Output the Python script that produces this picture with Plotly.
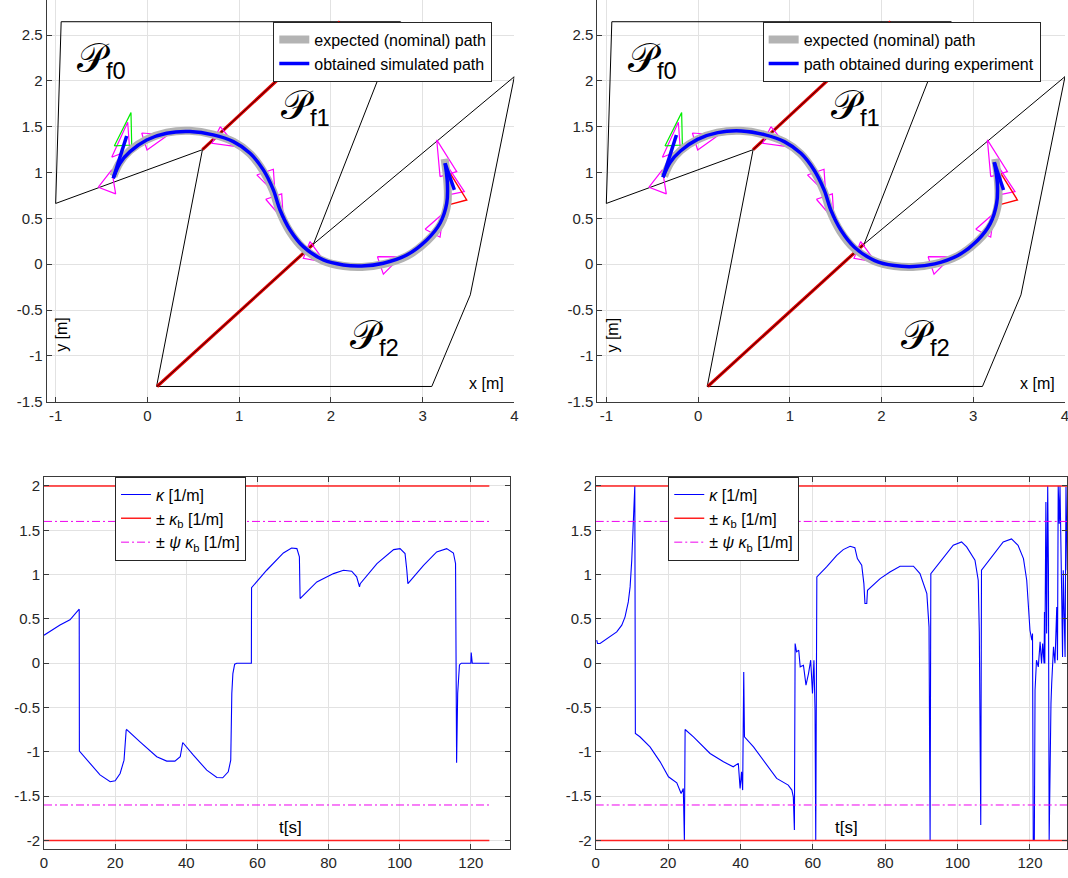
import plotly.graph_objects as go

FONT = "Liberation Sans, Arial, Helvetica, sans-serif"

# ---------------- top plots: partition boundaries ----------------
bound_x = [-0.94, -1.00, 0.60, 0.10, 3.10, 3.52, 4.00, 1.81, 2.76, -0.94]
bound_y = [2.646, 0.663, 1.25, -1.334, -1.334, -0.334, 2.047, 0.22, 2.646, 2.646]
red_x = [0.105, 1.81, None, 0.60, 2.10]
red_y = [-1.334, 0.22, None, 1.25, 2.646]

# nominal (expected) path
nom_x = [-0.37, -0.30, -0.19, -0.01, 0.21, 0.46, 0.72, 0.94, 1.12, 1.26, 1.37, 1.44,
         1.55, 1.70, 1.92, 2.14, 2.34, 2.57, 2.83, 3.05, 3.20, 3.27, 3.27, 3.24]
nom_y = [0.96, 1.11, 1.24, 1.36, 1.435, 1.455, 1.415, 1.335, 1.205, 1.02, 0.80, 0.58,
         0.36, 0.175, 0.035, -0.02, -0.03, 0.00, 0.09, 0.255, 0.44, 0.66, 0.89, 1.15]

# obtained simulated path
sim_x = [-0.372, -0.299, -0.190, -0.008, 0.210, 0.464, 0.718, 0.937, 1.119, 1.264, 1.373,
         1.446, 1.555, 1.700, 1.918, 2.136, 2.336, 2.572, 2.827, 3.045, 3.190, 3.263, 3.270, 3.245]
sim_y = [0.938, 1.102, 1.228, 1.356, 1.429, 1.447, 1.411, 1.337, 1.211, 1.029, 0.811,
         0.592, 0.374, 0.192, 0.047, -0.008, -0.019, 0.011, 0.101, 0.265, 0.447, 0.665, 0.884, 1.102]
sim_head_x = [-0.226, -0.372, None, 3.245, 3.346]
sim_head_y = [1.400, 0.938, None, 1.102, 0.811]

# path obtained during experiment
exp_x = [-0.382, -0.305, -0.192, -0.006, 0.214, 0.473, 0.722, 0.940, 1.121, 1.266, 1.376,
         1.450, 1.560, 1.705, 1.925, 2.140, 2.346, 2.580, 2.832, 3.048, 3.186, 3.255, 3.262, 3.229]
exp_y = [0.949, 1.110, 1.235, 1.362, 1.436, 1.454, 1.414, 1.338, 1.210, 1.026, 0.806,
         0.585, 0.368, 0.186, 0.040, -0.015, -0.026, 0.004, 0.095, 0.262, 0.446, 0.665, 0.886, 1.113]
exp_head_x = [-0.236, -0.382, None, 3.229, 3.330]
exp_head_y = [1.410, 0.949, None, 1.113, 0.810]

# robot footprints (triangles)
mag_tri_x = [-0.535, -0.346, -0.389, -0.535, None,
             -0.389, -0.193, -0.215, -0.389, None,
             -0.062, -0.004, 0.225, -0.062, None,
             0.794, 0.704, 0.974, 0.794, None,
             1.192, 1.373, 1.391, 1.192, None,
             1.290, 1.464, 1.482, 1.290, None,
             1.773, 1.700, 1.936, 1.773, None,
             2.507, 2.572, 2.760, 2.507, None,
             3.027, 3.190, 3.226, 3.027, None,
             3.190, 3.372, 3.154, 3.190, None,
             3.280, 3.455, 3.226, 3.280]
mag_tri_y = [0.840, 0.767, 1.029, 0.840, None,
             1.167, 1.246, 1.549, 1.167, None,
             1.432, 1.247, 1.410, 1.432, None,
             1.501, 1.320, 1.283, 1.501, None,
             0.974, 1.036, 0.775, 0.974, None,
             0.709, 0.767, 0.483, 0.709, None,
             0.247, 0.065, 0.022, 0.247, None,
             0.083, -0.109, 0.080, 0.083, None,
             0.382, 0.295, 0.556, 0.382, None,
             0.956, 1.010, 1.356, 0.956, None,
             0.756, 0.792, 1.138, 0.756]
green_tri_x = [-0.361, -0.171, -0.179, -0.361]
green_tri_y = [1.291, 1.301, 1.654, 1.291]
red_tri_x = [3.281, 3.481, 3.299, 3.281]
red_tri_y = [0.647, 0.701, 0.993, 0.647]

region_subs = ["f0", "f1", "f2"]
region_x = [-0.50, 1.72, 2.48]
region_y = [2.23, 1.72, -0.79]

top_xticks = [-1, 0, 1, 2, 3, 4]
top_xtext = ["-1", "0", "1", "2", "3", "4"]
top_yticks = [2.5, 2, 1.5, 1, 0.5, 0, -0.5, -1, -1.5]
top_ytext = ["2.5", "2", "1.5", "1", "0.5", "0", "-0.5", "-1", "-1.5"]

# ---------------- bottom plots: curvature ----------------
t_sim = [0, 4.5, 7.3, 9.66, 9.9, 9.95, 12.9, 15.75, 18.6, 20.0,
         21.4, 22.5, 23.1, 23.25, 27.0, 31.7, 34.5, 36.8, 38.3, 38.7,
         39.0, 42.0, 45.75, 48.6, 50.25, 51.8, 52.5, 52.65, 52.8, 53.1,
         53.6, 54.2, 58.3, 58.35, 62.6, 67.3, 69.6, 71.1, 71.8, 72.0,
         76.7, 81.4, 84.2, 86.5, 87.9, 88.7, 88.9, 93.6, 98.3, 100.1,
         101.5, 102.0, 102.3, 106.7, 110.4, 113.2, 115.1, 115.7, 115.9, 116.0,
         116.3, 116.8, 117.3, 120.0, 120.1, 120.4, 125.2]
k_sim = [0.316, 0.43, 0.49, 0.598, 0.61, -0.992, -1.13, -1.26, -1.338, -1.327,
         -1.244, -1.094, -0.756, -0.748, -0.887, -1.056, -1.105, -1.105, -1.056, -0.944,
         -0.895, -1.038, -1.207, -1.29, -1.293, -1.226, -1.094, -0.718, -0.342, -0.117,
         -0.011, 0.0, 0.0, 0.853, 1.049, 1.244, 1.3, 1.293, 1.2, 0.729,
         0.917, 1.011, 1.049, 1.038, 0.974, 0.861, 0.898, 1.124, 1.282, 1.293,
         1.237, 1.049, 0.898, 1.105, 1.256, 1.293, 1.244, 1.124, 0.034, -1.124,
         -0.34, -0.02, 0.0, 0.0, 0.12, 0.0, 0.0]

t_exp = [0.27, 0.5, 1.2, 4.0, 5.8, 7.2, 8.1, 9.0, 9.5, 9.95,
         10.4, 10.6, 10.8, 10.95, 12.2, 15.0, 17.8, 20.1, 22.4, 23.6,
         24.2, 24.5, 24.7, 27.0, 31.6, 35.3, 38.0, 39.4, 39.9, 40.3,
         40.6, 40.9, 41.1, 43.6, 47.2, 50.0, 53.2, 54.2, 54.6, 54.9,
         55.1, 55.5, 56.1, 56.5, 57.4, 58.1, 58.8, 59.4, 59.9, 60.3,
         60.6, 60.8, 61.1, 63.8, 66.6, 68.4, 70.3, 71.6, 72.3, 73.5,
         74.1, 74.4, 74.9, 75.1, 78.6, 81.3, 84.1, 87.8, 89.6, 91.5,
         92.1, 92.4, 92.6, 96.1, 98.8, 101.1, 102.5, 104.8, 105.7, 106.0,
         106.4, 106.6, 109.9, 112.6, 114.9, 116.7, 118.2, 119.1, 120.0, 120.5,
         120.7, 120.9, 121.2, 121.4, 121.8, 122.3, 122.8, 123.2, 123.5, 123.9,
         124.0, 124.1, 124.4, 124.6, 124.9, 125.1, 125.3, 125.5, 125.8, 126.0,
         126.5, 126.9, 127.4, 127.6, 127.8, 128.1, 128.3, 128.8, 129.0, 129.2,
         129.7, 129.95, 130.3]
k_exp = [0.26, 0.222, 0.222, 0.297, 0.353, 0.429, 0.523, 0.692, 0.861, 1.16,
         1.725, 2.0, 2.0, -0.793, -0.83, -0.944, -1.113, -1.282, -1.35, -1.47,
         -1.414, -2.0, -0.748, -0.831, -1.019, -1.113, -1.169, -1.13, -1.414, -1.226,
         -1.432, -0.098, -0.831, -0.944, -1.15, -1.3, -1.376, -1.432, -1.508, -1.883,
         0.222, 0.128, 0.147, -0.041, -0.023, -0.248, -0.117, 0.034, -0.342, 0.034,
         -0.53, -2.0, 0.974, 1.086, 1.218, 1.282, 1.32, 1.304, 1.18, 1.105,
         0.898, 0.673, 0.673, 0.823, 0.955, 1.03, 1.094, 1.094, 1.011, 0.786,
         0.41, -2.0, 1.011, 1.199, 1.331, 1.368, 1.312, 1.162, 0.936, 0.353,
         -1.827, 1.049, 1.218, 1.368, 1.402, 1.331, 1.18, 0.936, 0.372, 0.259,
         0.335, -2.0, -2.0, -0.305, 0.034, -0.041, 0.241, -0.004, 0.222, -0.004,
         0.579, -0.004, 1.82, 0.335, 2.0, 1.05, -2.0, -1.207, -0.455, -0.229,
         0.184, 0.0, 0.635, 0.034, 2.0, 1.575, 2.0, 0.673, 0.071, 1.049,
         0.071, 1.99, 1.05]

kappa_b = 2.0
psi_kappa_b = 1.6
t_end_sim = 125.2
t_end_exp = 130.3
bot_yticks = [2, 1.5, 1, 0.5, 0, -0.5, -1, -1.5, -2]
bot_ytext = ["2", "1.5", "1", "0.5", "0", "-0.5", "-1", "-1.5", "-2"]
bot_xticks = [0, 20, 40, 60, 80, 100, 120]
bot_xtext = ["0", "20", "40", "60", "80", "100", "120"]

# ---------------- figure ----------------
fig = go.Figure()


def top_panel(xa, ya, leg, px, py, hx, hy, obtained_name):
    fig.add_trace(go.Scatter(x=bound_x, y=bound_y, mode="lines", xaxis=xa, yaxis=ya,
                             line=dict(color="black", width=1), showlegend=False, hoverinfo="skip"))
    fig.add_trace(go.Scatter(x=red_x, y=red_y, mode="lines", xaxis=xa, yaxis=ya,
                             line=dict(color="#e00000", width=3.2), showlegend=False, hoverinfo="skip"))
    fig.add_trace(go.Scatter(x=red_x, y=red_y, mode="lines", xaxis=xa, yaxis=ya,
                             line=dict(color="#200000", width=0.9), showlegend=False, hoverinfo="skip"))
    fig.add_trace(go.Scatter(x=mag_tri_x, y=mag_tri_y, mode="lines", xaxis=xa, yaxis=ya,
                             line=dict(color="#ff00ff", width=1.2), showlegend=False, hoverinfo="skip"))
    fig.add_trace(go.Scatter(x=green_tri_x, y=green_tri_y, mode="lines", xaxis=xa, yaxis=ya,
                             line=dict(color="#00ee00", width=1.2), showlegend=False, hoverinfo="skip"))
    fig.add_trace(go.Scatter(x=red_tri_x, y=red_tri_y, mode="lines", xaxis=xa, yaxis=ya,
                             line=dict(color="#ff0000", width=1.4), showlegend=False, hoverinfo="skip"))
    fig.add_trace(go.Scatter(x=nom_x, y=nom_y, mode="lines", xaxis=xa, yaxis=ya,
                             line=dict(color="#b3b3b3", width=8, shape="spline"),
                             name="expected (nominal) path", legend=leg))
    fig.add_trace(go.Scatter(x=px, y=py, mode="lines", xaxis=xa, yaxis=ya,
                             line=dict(color="#0000ff", width=3.5, shape="spline"),
                             name=obtained_name, legend=leg))
    fig.add_trace(go.Scatter(x=hx, y=hy, mode="lines", xaxis=xa, yaxis=ya,
                             line=dict(color="#0000ff", width=3.5), showlegend=False, hoverinfo="skip"))


def bottom_panel(xa, ya, leg, t, k, t_end):
    fig.add_trace(go.Scatter(x=t, y=k, mode="lines", xaxis=xa, yaxis=ya,
                             line=dict(color="#0000ff", width=1.1),
                             name="<i>κ</i> [1/m]", legend=leg))
    fig.add_trace(go.Scatter(x=[0, t_end, None, 0, t_end],
                             y=[kappa_b, kappa_b, None, -kappa_b, -kappa_b],
                             mode="lines", xaxis=xa, yaxis=ya,
                             line=dict(color="#ff2020", width=1.5),
                             name="± <i>κ</i><sub>b</sub> [1/m]", legend=leg))
    fig.add_trace(go.Scatter(x=[0, t_end, None, 0, t_end],
                             y=[psi_kappa_b, psi_kappa_b, None, -psi_kappa_b, -psi_kappa_b],
                             mode="lines", xaxis=xa, yaxis=ya,
                             line=dict(color="#ee00ee", width=1, dash="8px,3px,2px,3px"),
                             name="± <i>ψ</i> <i>κ</i><sub>b</sub> [1/m]", legend=leg))


top_panel("x", "y", "legend", sim_x, sim_y, sim_head_x, sim_head_y, "obtained simulated path")
top_panel("x2", "y2", "legend2", exp_x, exp_y, exp_head_x, exp_head_y, "path obtained during experiment")
bottom_panel("x3", "y3", "legend3", t_sim, k_sim, t_end_sim)
bottom_panel("x4", "y4", "legend4", t_exp, k_exp, t_end_exp)

tickfont = dict(family=FONT, size=15, color="#262626")
GRID = "#e2e2e2"
AX = "#3a3a3a"

common = dict(showgrid=True, gridcolor=GRID, zeroline=False, showline=True, linecolor=AX,
              linewidth=1, ticks="inside", ticklen=5, tickcolor=AX, tickfont=tickfont,
              automargin=False, ticklabeloverflow="allow")


def top_x(domain, anchor):
    return dict(domain=domain, range=[-1.098, 4.0], tickvals=top_xticks, ticktext=top_xtext,
                anchor=anchor, **common)


def top_y(anchor):
    return dict(domain=[0.5425, 1.0], range=[-1.5, 2.883], tickvals=top_yticks, ticktext=top_ytext,
                anchor=anchor, **common)


def bot_x(domain, rng, anchor):
    return dict(domain=domain, range=rng, tickvals=bot_xticks, ticktext=bot_xtext, anchor=anchor,
                mirror="ticks", **common)


def bot_y(anchor):
    return dict(domain=[0.0327, 0.4571], range=[-2.1, 2.105], tickvals=bot_yticks, ticktext=bot_ytext,
                anchor=anchor, mirror="ticks", **common)


def leg(x, y, size):
    return dict(x=x, y=y, xanchor="left", yanchor="top", xref="paper", yref="paper",
                bgcolor="white", bordercolor="#262626", borderwidth=1,
                font=dict(family=FONT, size=size, color="black"), tracegroupgap=0,
                itemwidth=30)


annotations = []
for xr, yr in (("x", "y"), ("x2", "y2")):
    for sub, ax_, ay_ in zip(region_subs, region_x, region_y):
        annotations.append(dict(
            x=ax_, y=ay_, xref=xr, yref=yr, showarrow=False,
            text="<span style='font-size:40px'>𝒫</span><sub>" + sub + "</sub>",
            font=dict(family="Liberation Sans, DejaVu Serif, DejaVu Sans, serif", size=34,
                      color="black")))
    annotations.append(dict(x=3.70, y=-1.30, xref=xr, yref=yr, text="x [m]", showarrow=False,
                            font=dict(family=FONT, size=16, color="black")))
    annotations.append(dict(x=-0.93, y=-0.77, xref=xr, yref=yr, text="y [m]", showarrow=False,
                            textangle=-90, font=dict(family=FONT, size=16, color="black")))
for xr, yr in (("x3", "y3"), ("x4", "y4")):
    annotations.append(dict(x=69.3, y=-1.85, xref=xr, yref=yr, text="t[s]", showarrow=False,
                            font=dict(family=FONT, size=17, color="black")))

fig.update_layout(
    width=1068, height=878, margin=dict(l=0, r=0, t=0, b=0, autoexpand=False),
    paper_bgcolor="white", plot_bgcolor="white",
    font=dict(family=FONT),
    xaxis=top_x([0.0437, 0.4816], "y"), yaxis=top_y("x"),
    xaxis2=top_x([0.5593, 0.9972], "y2"), yaxis2=top_y("x2"),
    xaxis3=bot_x([0.0412, 0.4775], [0, 131.0], "y3"), yaxis3=bot_y("x3"),
    xaxis4=bot_x([0.5578, 0.9993], [0, 130.3], "y4"), yaxis4=bot_y("x4"),
    legend=leg(0.2559, 0.9753, 16),
    legend2=leg(0.7141, 0.9753, 16),
    legend3=leg(0.1077, 0.4571, 16),
    legend4=leg(0.6257, 0.4571, 16),
    annotations=annotations,
)

fig.write_html("out.html")
